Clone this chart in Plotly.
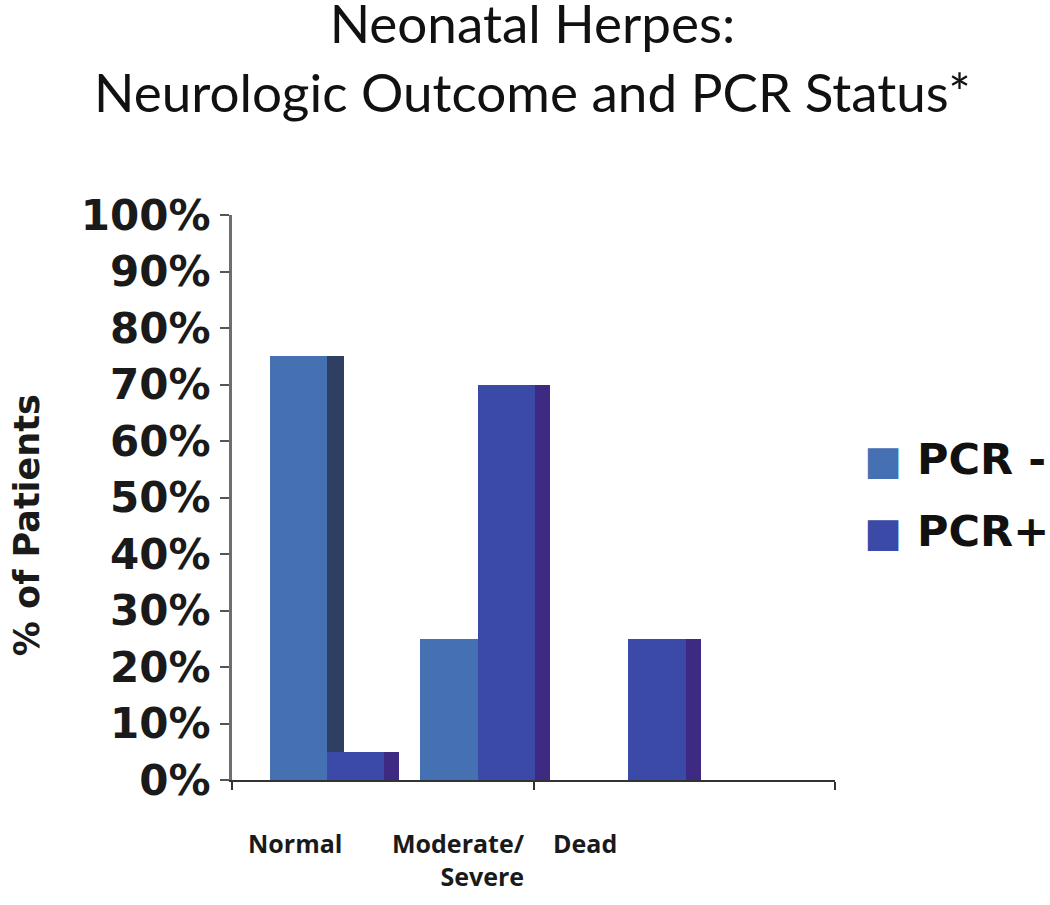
import plotly.graph_objects as go

# ---- data ----
categories = ["Normal", "Moderate/<br>Severe", "Dead"]
pcr_neg = [75, 25, 0]
pcr_pos = [5, 70, 25]
series_names = ["PCR -", "PCR+"]
y_ticks = [0, 10, 20, 30, 40, 50, 60, 70, 80, 90, 100]
y_tick_text = [f"{v}%" for v in y_ticks]
title_text = "Neonatal Herpes:<br>Neurologic Outcome and PCR Status*"
y_title = "% of Patients"

# ---- styles ----
neg_front = "#4571B3"
neg_side = "#2F3F62"
pos_front = "#3B4AA6"
pos_side = "#3E2A83"

idx = list(range(len(categories)))
front_w = 0.38
side_w = 0.11

fig = go.Figure()
fig.add_trace(go.Bar(x=idx, y=pcr_neg, width=front_w, offset=0,
                     marker=dict(color=neg_front, line=dict(width=0)),
                     showlegend=False, name=series_names[0]))
fig.add_trace(go.Bar(x=idx, y=pcr_neg, width=side_w, offset=front_w,
                     marker=dict(color=neg_side, line=dict(width=0)),
                     showlegend=False, hoverinfo="skip"))
fig.add_trace(go.Bar(x=idx, y=pcr_pos, width=front_w, offset=front_w,
                     marker=dict(color=pos_front, line=dict(width=0)),
                     showlegend=False, name=series_names[1]))
fig.add_trace(go.Bar(x=idx, y=pcr_pos, width=side_w - 0.01, offset=2 * front_w,
                     marker=dict(color=pos_side, line=dict(width=0)),
                     showlegend=False, hoverinfo="skip"))

# legend entries (large colored squares drawn as glyphs in the legend text)
for nm, col, grp in [(series_names[0], neg_front, "a"), (series_names[1], pos_front, "b")]:
    fig.add_trace(go.Bar(x=[None], y=[None],
                         name=f'<span style="color:{col};font-size:40px">■</span> {nm}',
                         marker=dict(color="rgba(0,0,0,0)", line=dict(width=0)),
                         legendgroup=grp, showlegend=True))

annotations = []
label_x = [0.166, 1.71, 2.09]
label_anchor = ["center", "right", "center"]
for cat, lx, anc in zip(categories, label_x, label_anchor):
    annotations.append(dict(text=cat, x=lx, xref="x", y=-0.078, yref="paper",
                            xanchor=anc, yanchor="top", align="right", showarrow=False,
                            font=dict(family="Open Sans", size=25, color="#1a1a1a", weight="bold")))
annotations.append(dict(text=y_title, textangle=-90, x=-0.340, xref="paper",
                        y=0.451, yref="paper", xanchor="center", yanchor="middle",
                        showarrow=False,
                        font=dict(family="DejaVu Sans", size=35, color="#1a1a1a", weight="bold")))
annotations.append(dict(text=title_text, x=0.499, xref="paper", y=1.279, yref="paper",
                        xanchor="center", yanchor="middle", showarrow=False,
                        font=dict(family="Lato", size=53, color="#111111")))

fig.update_layout(
    width=1050, height=905,
    margin=dict(l=232, r=215, t=215, b=125, autoexpand=False),
    paper_bgcolor="white", plot_bgcolor="white",
    barmode="overlay", bargap=0,
    xaxis=dict(range=[-0.25, 3.75], showgrid=False, zeroline=False,
               showline=True, linecolor="#333333", linewidth=2,
               ticks="outside", ticklen=8, tickwidth=2, tickcolor="#333333",
               tick0=-0.25, dtick=2, showticklabels=False, fixedrange=True),
    yaxis=dict(range=[0, 100], tickmode="array", tickvals=y_ticks, ticktext=y_tick_text,
               showgrid=False, zeroline=False,
               showline=True, linecolor="#6e6e6e", linewidth=3,
               ticks="outside", ticklen=9, tickwidth=2, tickcolor="#555555",
               ticklabelstandoff=1,
               tickfont=dict(family="DejaVu Sans", size=42, color="#1a1a1a", weight="bold")),
    legend=dict(x=0.785, xref="container", xanchor="left",
                y=1 - 423 / 905, yref="container", yanchor="top",
                traceorder="grouped", tracegroupgap=13,
                bgcolor="rgba(0,0,0,0)",
                font=dict(family="DejaVu Sans", size=43, color="#111111", weight="bold")),
    annotations=annotations,
    showlegend=True,
)

fig.write_html("out.html", config={"displayModeBar": False},
               post_script="document.body.style.margin='0px';")
